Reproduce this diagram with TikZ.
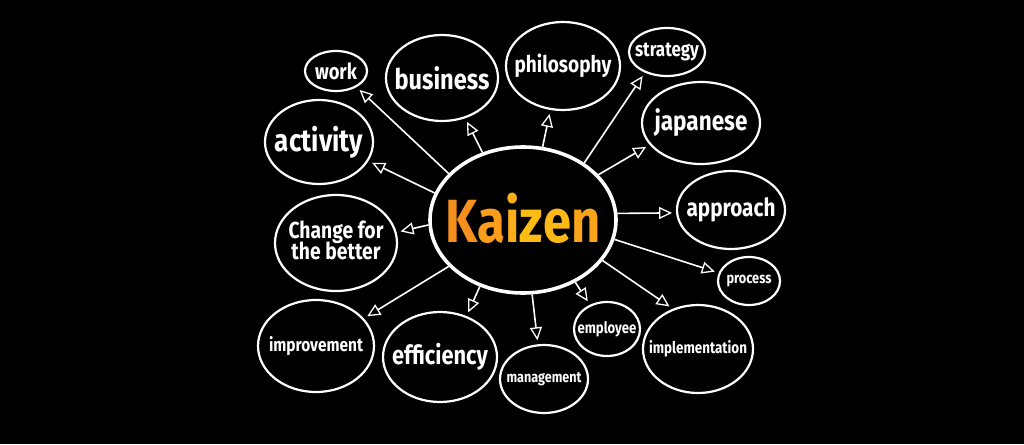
\documentclass[tikz,border=0pt]{standalone}
\usepackage{fontspec}
\setmainfont{Fira Sans}
\usetikzlibrary{arrows.meta,shapes.geometric}
\definecolor{kzK}{HTML}{F5901E}
\definecolor{kzA}{HTML}{F89E1C}
\definecolor{kzI}{HTML}{FAAE19}
\definecolor{kzZ}{HTML}{FCBC15}
\definecolor{kzE}{HTML}{FCB817}
\definecolor{kzN}{HTML}{F9A41B}
% text scaled to a width, taking no room in the bubble
\newcommand{\fitw}[2]{\makebox[0pt]{\smash{\raisebox{\dimexpr(\depth-\height)/2\relax}{\resizebox{#1pt}{!}{\scalebox{1}[1.2]{#2}}}}}}
\begin{document}
\begin{tikzpicture}[x=1pt,y=-1pt,
  bubble/.style={ellipse, draw=white, line width=2.2pt, inner sep=0pt, text=white, font=\bfseries},
  hub/.style={bubble, line width=3.6pt},
  link/.style={white, line width=1.6pt, shorten >=4pt,
    -{Triangle[open, length=13pt, width=12pt, line width=1.3pt]}}]
\fill [black] (0,0) rectangle (1024,444);
\node [hub, minimum width=186pt, minimum height=146pt] (kaizen) at (523,220)
  {\raisebox{3pt}{\fitw{155}{\color{kzK}K\color{kzA}a\color{kzI}i\color{kzZ}z\color{kzE}e\color{kzN}n}}};
\node [bubble, minimum width=62pt, minimum height=40pt] (work) at (336,71) {\fitw{42}{work}};
\node [bubble, minimum width=112pt, minimum height=86pt] (business) at (442,78) {\fitw{95}{business}};
\node [bubble, minimum width=114pt, minimum height=88pt] (philosophy) at (563,66) {\fitw{97}{philosophy}};
\node [bubble, minimum width=76pt, minimum height=48pt] (strategy) at (667,52) {\fitw{64}{strategy}};
\node [bubble, minimum width=118pt, minimum height=82pt] (japanese) at (701,123) {\fitw{93}{japanese}};
\node [bubble, minimum width=108pt, minimum height=84pt] (activity) at (319,142) {\fitw{88}{activity}};
\node [bubble, minimum width=122pt, minimum height=96pt] (change) at (336,243)
  {\fitw{95}{\begin{tabular}{@{}c@{}}Change for\\[-3pt]the better\end{tabular}}};
\node [bubble, minimum width=116pt, minimum height=92pt] (improvement) at (316,346) {\fitw{94}{improvement}};
\node [bubble, minimum width=114pt, minimum height=90pt] (efficiency) at (440,357) {\fitw{96}{efficiency}};
\node [bubble, minimum width=88pt, minimum height=68pt] (management) at (544,379) {\fitw{75}{management}};
\node [bubble, minimum width=66pt, minimum height=54pt] (employee) at (607,329) {\fitw{59}{employee}};
\node [bubble, minimum width=110pt, minimum height=88pt] (implementation) at (698,349) {\fitw{98}{implementation}};
\node [bubble, minimum width=62pt, minimum height=48pt] (process) at (749,281) {\fitw{45}{process}};
\node [bubble, minimum width=108pt, minimum height=78pt] (approach) at (731,210) {\fitw{89}{approach}};
\draw [link] (kaizen.148) -- (work.-38);
\draw [link] (kaizen.121) -- (business.-60);
\draw [link] (kaizen.75) -- (philosophy.-106);
\draw [link] (kaizen.43) -- (strategy.-137);
\draw [link] (kaizen.31) -- (japanese.203);
\draw [link] (kaizen.4) -- (approach.183);
\draw [link] (kaizen.-12) -- (process.165);
\draw [link] (kaizen.-27) -- (implementation.122);
\draw [link] (kaizen.-50) -- (employee.125);
\draw [link] (kaizen.-83) -- (management.100);
\draw [link] (kaizen.-123) -- (efficiency.57);
\draw [link] (kaizen.-148) -- (improvement.30);
\draw [link] (kaizen.183) -- (change.10);
\draw [link] (kaizen.163) -- (activity.-21);
\end{tikzpicture}
\end{document}
